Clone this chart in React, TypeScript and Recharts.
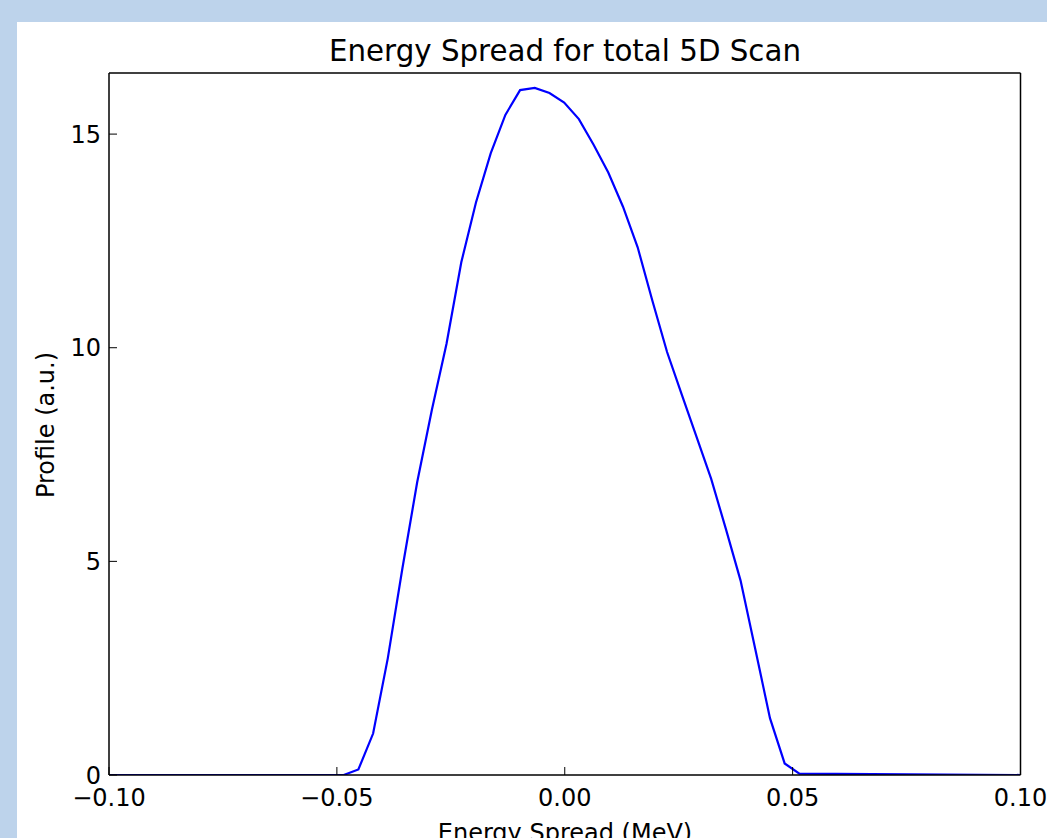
import React from 'react';
import { LineChart, Line, XAxis, YAxis } from 'recharts';

// Energy spread (MeV) sample positions
const energyMeV = [
  -0.1, -0.0485, -0.04528, -0.04205, -0.03883, -0.0356, -0.03238, -0.02915, -0.02593,
  -0.0227, -0.01948, -0.01625, -0.01303, -0.0098, -0.00658, -0.00335, -0.00013,
  0.0031, 0.00633, 0.00955, 0.01278, 0.016, 0.01923, 0.02245, 0.02568, 0.0289,
  0.03213, 0.03535, 0.03858, 0.0418, 0.04503, 0.04825, 0.05148, 0.1,
];
// Profile (a.u.)
const profile = [
  0, 0, 0.13, 0.97, 2.73, 4.85, 6.85, 8.55, 10.1,
  12.0, 13.4, 14.55, 15.45, 16.03, 16.08, 15.96, 15.74,
  15.35, 14.75, 14.1, 13.3, 12.35, 11.1, 9.9, 8.9, 7.92,
  6.93, 5.76, 4.55, 2.95, 1.33, 0.27, 0.03, 0,
];
const xTicks = [-0.1, -0.05, 0, 0.05, 0.1];
const yTicks = [0, 5, 10, 15];

const data = energyMeV.map((x, i) => ({ x, y: profile[i] }));

const FONT = "'DejaVu Sans', 'Bitstream Vera Sans', sans-serif";
const fmtX = (v: number) => (v < 0 ? '\u2212' : '') + Math.abs(v).toFixed(2);

export default function App() {
  return (
    <div
      style={{
        position: 'absolute',
        left: 0,
        top: 0,
        width: 1047,
        height: 838,
        overflow: 'hidden',
        background: '#bdd3eb',
        fontFamily: FONT,
      }}
    >
      <div
        style={{
          position: 'absolute',
          left: 17,
          top: 22,
          width: 1030,
          height: 816,
          background: '#ffffff',
        }}
      >
        <LineChart
          width={1030}
          height={816}
          data={data}
          margin={{ top: 0, right: 0, bottom: 0, left: 0 }}
        >
          <XAxis
            xAxisId="bottom"
            dataKey="x"
            type="number"
            domain={[-0.1, 0.1]}
            ticks={xTicks}
            allowDataOverflow
            orientation="bottom"
            height={63}
            tickFormatter={fmtX}
            tickSize={-8}
            tickMargin={22}
            axisLine={{ stroke: '#000', strokeWidth: 1.5 }}
            tickLine={{ stroke: '#000', strokeWidth: 1 }}
            tick={{ fill: '#000', fontSize: 24, fontFamily: FONT }}
            interval={0}
          />
          <XAxis
            xAxisId="top"
            dataKey="x"
            type="number"
            domain={[-0.1, 0.1]}
            ticks={xTicks}
            allowDataOverflow
            orientation="top"
            height={51}
            tickSize={-8}
            tick={false}
            axisLine={{ stroke: '#000', strokeWidth: 1.5 }}
            tickLine={{ stroke: '#000', strokeWidth: 1 }}
            interval={0}
          />
          <YAxis
            yAxisId="left"
            type="number"
            domain={[0, 16.43]}
            ticks={yTicks}
            allowDataOverflow
            orientation="left"
            width={92}
            tickSize={-8}
            tickMargin={16}
            axisLine={{ stroke: '#000', strokeWidth: 1.5 }}
            tickLine={{ stroke: '#000', strokeWidth: 1 }}
            tick={{ fill: '#000', fontSize: 24, fontFamily: FONT }}
            interval={0}
          />
          <YAxis
            yAxisId="right"
            type="number"
            domain={[0, 16.43]}
            ticks={yTicks}
            allowDataOverflow
            orientation="right"
            width={26.5}
            tickSize={-8}
            tick={false}
            axisLine={{ stroke: '#000', strokeWidth: 1.5 }}
            tickLine={{ stroke: '#000', strokeWidth: 1 }}
            interval={0}
          />
          <Line
            xAxisId="bottom"
            yAxisId="left"
            type="linear"
            dataKey="y"
            stroke="#0000ff"
            strokeWidth={2.2}
            dot={false}
            activeDot={false}
            isAnimationActive={false}
          />
        </LineChart>
      </div>
      <div
        style={{
          position: 'absolute',
          left: 265,
          width: 600,
          top: 37.3,
          lineHeight: '29.3px',
          fontSize: 29.3,
          textAlign: 'center',
          color: '#000',
          whiteSpace: 'nowrap',
        }}
      >
        Energy Spread for total 5D Scan
      </div>
      <div
        style={{
          position: 'absolute',
          left: 365,
          width: 400,
          top: 820.7,
          lineHeight: '24px',
          fontSize: 24,
          textAlign: 'center',
          color: '#000',
          whiteSpace: 'nowrap',
        }}
      >
        Energy Spread (MeV)
      </div>
      <div
        style={{
          position: 'absolute',
          left: 46 - 120,
          top: 425 - 12,
          width: 240,
          height: 24,
          lineHeight: '24px',
          fontSize: 24,
          textAlign: 'center',
          color: '#000',
          whiteSpace: 'nowrap',
          transform: 'rotate(-90deg)',
          transformOrigin: '50% 50%',
        }}
      >
        Profile (a.u.)
      </div>
    </div>
  );
}
